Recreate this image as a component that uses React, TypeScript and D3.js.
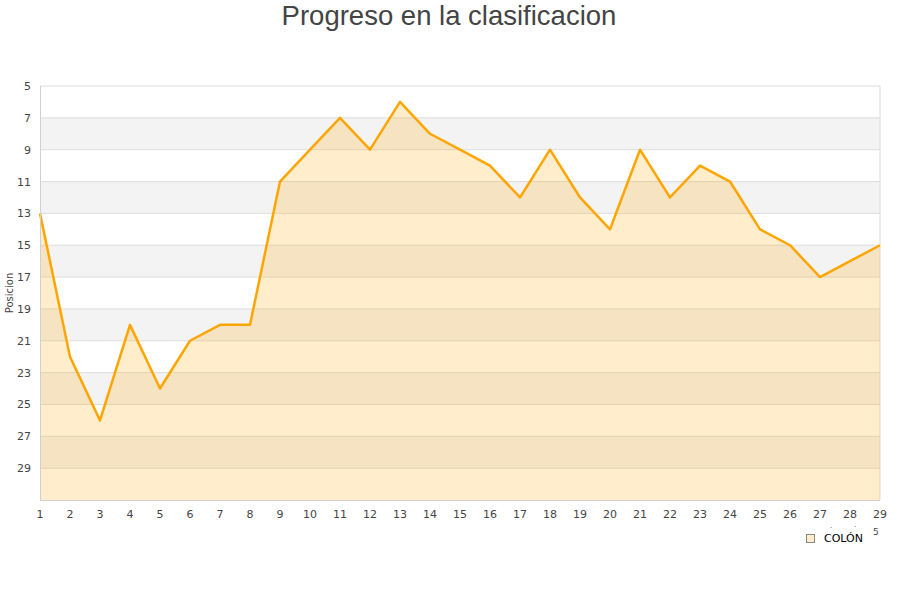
import React from "react";
import * as d3 from "d3";

const rounds = [1,2,3,4,5,6,7,8,9,10,11,12,13,14,15,16,17,18,19,20,21,22,23,24,25,26,27,28,29];
const positions = [13,22,26,20,24,21,20,20,11,9,7,9,6,8,9,10,12,9,12,14,9,12,10,11,14,15,17,16,15];
const yTicks = [5,7,9,11,13,15,17,19,21,23,25,27,29];
const seriesName = "COLÓN";

export default function App() {
  const W = 900, H = 600;
  const L = 40, R = 880, T = 86, B = 500;
  const x = d3.scaleLinear().domain([1, 29]).range([L, R]);
  const y = d3.scaleLinear().domain([5, 31]).range([T, B]);
  const line = d3.line<number>().x((_, i) => x(rounds[i])).y(d => y(d));
  const area = d3.area<number>().x((_, i) => x(rounds[i])).y0(B).y1(d => y(d));
  const bands: number[] = [];
  for (let v = 7; v < 31; v += 4) bands.push(v);
  return (
    <svg width={W} height={H} style={{ position: "absolute", left: 0, top: 0 }}>
      <rect x={0} y={0} width={W} height={H} fill="#fff" />
      <text x={449} y={25} textAnchor="middle" fontFamily="Liberation Sans, Arial, sans-serif" fontSize={27.5} fill="#444">Progreso en la clasificacion</text>
      {bands.map(v => (
        <rect key={v} x={L} y={y(v)} width={R - L} height={y(v + 2) - y(v)} fill="#f3f3f3" />
      ))}
      {yTicks.map(v => (
        <line key={v} x1={L} x2={R} y1={y(v)} y2={y(v)} stroke="#dddddd" strokeWidth={1} />
      ))}
      <line x1={R} x2={R} y1={T} y2={B} stroke="#dddddd" />
      <path d={area(positions) || ""} fill="rgba(255,165,0,0.2)" />
      <path d={line(positions) || ""} fill="none" stroke="#ffa500" strokeWidth={2.5} strokeLinejoin="round" />
      <line x1={L + 0.5} x2={L + 0.5} y1={T} y2={B} stroke="#d0d0d0" />
      <line x1={L} x2={R} y1={B + 0.5} y2={B + 0.5} stroke="#d0d0d0" />
      {yTicks.map(v => (
        <text key={v} x={31} y={y(v) + 4} textAnchor="end" fontFamily="DejaVu Sans, sans-serif" fontSize={11} fill="#444">{v}</text>
      ))}
      {rounds.map(r => (
        <text key={r} x={x(r)} y={518} textAnchor="middle" fontFamily="DejaVu Sans, sans-serif" fontSize={11} fill="#444">{r}</text>
      ))}
      <text transform={`translate(13,${293}) rotate(-90)`} textAnchor="middle" fontFamily="DejaVu Sans, sans-serif" fontSize={10} fill="#444">Posicion</text>
      <text x={830} y={528} fontFamily="DejaVu Sans, sans-serif" fontSize={7} fill="#444">.</text>
      <text x={854} y={527} fontFamily="DejaVu Sans, sans-serif" fontSize={7} fill="#444">.</text>
      <text x={873} y={535} fontFamily="DejaVu Sans, sans-serif" fontSize={9} fill="#444">5</text>
      <rect x={806.5} y={534.5} width={8} height={8} fill="#ffedcc" stroke="#888" strokeWidth={1} />
      <text x={824} y={542} fontFamily="DejaVu Sans, sans-serif" fontSize={11} fill="#000">{seriesName}</text>
    </svg>
  );
}
